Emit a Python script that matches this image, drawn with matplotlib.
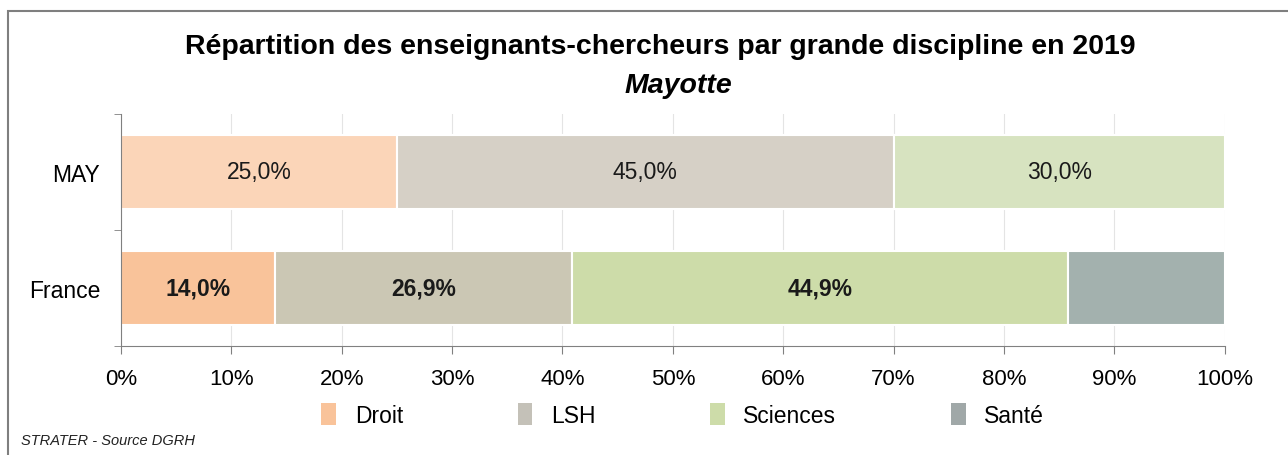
import matplotlib.pyplot as plt
from matplotlib.patches import Rectangle, Patch

plt.rcParams['font.family'] = ['Liberation Sans', 'DejaVu Sans']

# donnees
territoires = ['France', 'MAY']
disciplines = ['Droit', 'LSH', 'Sciences', 'Santé']
valeurs = {
    'MAY': [25.0, 45.0, 30.0, 0.0],
    'France': [14.0, 26.9, 44.9, 14.2],
}
etiquettes = {
    'MAY': ['25,0%', '45,0%', '30,0%', ''],
    'France': ['14,0%', '26,9%', '44,9%', ''],
}
couleursMAY = ['#fbd5b8', '#d6d0c6', '#d7e3c0', '#a6b3b0']
couleursFR = ['#f9c39a', '#cbc7b4', '#cddca9', '#a3b1ae']
couleursLegende = ['#f9c39a', '#c4c1b8', '#cddca9', '#a0a8a8']
ticksX = [0, 10, 20, 30, 40, 50, 60, 70, 80, 90, 100]

fig = plt.figure(figsize=(12.88, 4.56), dpi=100)
ax = fig.add_axes([0.0939, 0.239, 0.857, 0.509])

for i, terr in enumerate(territoires):
    gauche = 0
    couleurs = couleursFR if terr == 'France' else couleursMAY
    for j, v in enumerate(valeurs[terr]):
        if v > 0:
            ax.barh(i, v, left=gauche, height=0.64, color=couleurs[j],
                    edgecolor='white', linewidth=1.5, zorder=2)
            if etiquettes[terr][j]:
                ax.text(gauche + v / 2, i, etiquettes[terr][j], ha='center', va='center',
                        fontsize=16.5, color='#1a1a1a',
                        fontweight='bold' if terr == 'France' else 'normal', zorder=3)
        gauche += v

ax.set_xlim(0, 100)
ax.set_ylim(-0.5, 1.5)
ax.set_xticks(ticksX)
ax.set_xticklabels([str(t) + '%' for t in ticksX], fontsize=16)
ax.set_yticks(range(len(territoires)))
ax.set_yticklabels(territoires, fontsize=16.5)
ax.set_yticks([-0.5, 0.5, 1.5], minor=True)
ax.tick_params(axis='y', which='major', length=0, pad=15)
ax.tick_params(axis='y', which='minor', length=5, color='#808080')
ax.tick_params(axis='x', length=6, color='#808080', pad=10)
ax.grid(axis='x', color='#e4e4e4', linewidth=0.8, zorder=0)
ax.set_axisbelow(True)
for s in ['top', 'right']:
    ax.spines[s].set_visible(False)
for s in ['left', 'bottom']:
    ax.spines[s].set_color('#808080')

fig.text(0.513, 0.897, 'Répartition des enseignants-chercheurs par grande discipline en 2019',
         ha='center', va='center', fontsize=20.5, fontweight='bold')
fig.text(0.527, 0.812, 'Mayotte', ha='center', va='center', fontsize=20.5,
         fontweight='bold', style='italic')

poignees = [Patch(facecolor=c, edgecolor='none') for c in couleursLegende]
fig.legend(poignees, disciplines, loc='center', bbox_to_anchor=(0.530, 0.088), ncol=4,
           frameon=False, fontsize=16.5, handlelength=0.65, handleheight=1.1,
           columnspacing=5.0, handletextpad=0.8)

fig.text(0.016, 0.032, 'STRATER - Source DGRH', ha='left', va='center',
         fontsize=10.5, style='italic', color='#222222')

# cadre
fig.patches.append(Rectangle((8 / 1288, -0.05), 1.1, 1 - 12 / 456 + 0.05,
                             transform=fig.transFigure, fill=False,
                             edgecolor='#7f7f7f', linewidth=1.5))

fig.savefig('out.png', dpi=100)
